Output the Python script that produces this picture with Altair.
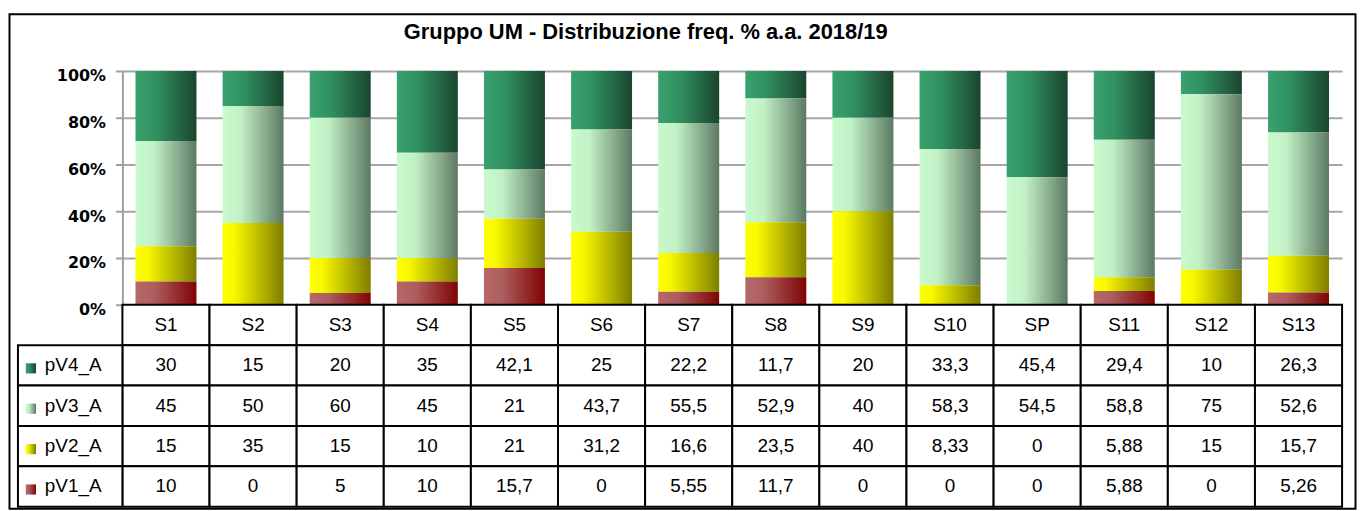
import altair as alt
import pandas as pd

# ---- data -------------------------------------------------------------
categories = ["S1", "S2", "S3", "S4", "S5", "S6", "S7", "S8", "S9",
              "S10", "SP", "S11", "S12", "S13"]
series = ["pV4_A", "pV3_A", "pV2_A", "pV1_A"]
pV4_A = [30, 15, 20, 35, 42.1, 25, 22.2, 11.7, 20, 33.3, 45.4, 29.4, 10, 26.3]
pV3_A = [45, 50, 60, 45, 21, 43.7, 55.5, 52.9, 40, 58.3, 54.5, 58.8, 75, 52.6]
pV2_A = [15, 35, 15, 10, 21, 31.2, 16.6, 23.5, 40, 8.33, 0, 5.88, 15, 15.7]
pV1_A = [10, 0, 5, 10, 15.7, 0, 5.55, 11.7, 0, 0, 0, 5.88, 0, 5.26]
chart_title = "Gruppo UM - Distribuzione freq. % a.a. 2018/19"
y_ticks = [0, 0.2, 0.4, 0.6, 0.8, 1.0]

values = {"pV4_A": pV4_A, "pV3_A": pV3_A, "pV2_A": pV2_A, "pV1_A": pV1_A}
stack_order = {"pV1_A": 1, "pV2_A": 2, "pV3_A": 3, "pV4_A": 4}

# ---- styles -----------------------------------------------------------
gradient_stops = {
    "pV4_A": [("#38A26F", 0.0), ("#30905F", 0.35), ("#1A452F", 1.0)],
    "pV3_A": [("#C8FACD", 0.0), ("#C2F1C6", 0.3), ("#5D7962", 1.0)],
    "pV2_A": [("#FFFF00", 0.0), ("#F8F800", 0.2), ("#7E7E00", 1.0)],
    "pV1_A": [("#B66868", 0.0), ("#AE5E5E", 0.3), ("#800404", 1.0)],
}


def grad(s):
    return alt.Gradient(
        gradient="linear", x1=0, x2=1, y1=0, y2=0,
        stops=[alt.GradientStop(color=c, offset=o) for c, o in gradient_stops[s]],
    )


def fmt(v):
    return f"{v:g}".replace(".", ",")


FONT = "Liberation Sans, Arial, sans-serif"

rows = []
for s in series:
    for c, v in zip(categories, values[s]):
        rows.append({"cat": c, "series": s, "value": v, "order": stack_order[s],
                     "row": s, "text": fmt(v)})
df = pd.DataFrame(rows)

hdr = pd.DataFrame({"cat": categories, "row": ["hdr"] * len(categories),
                    "text": categories})
tdf = pd.concat([hdr, df[["cat", "row", "text"]]], ignore_index=True)

# ---- bar chart --------------------------------------------------------
x_bar = alt.X("cat:N", sort=categories,
              scale=alt.Scale(domain=categories, paddingInner=0.3, paddingOuter=0.15),
              axis=None)
y_bar = alt.Y("y0:Q", scale=alt.Scale(domain=[0, 1], nice=False),
              axis=alt.Axis(values=y_ticks, format=".0%", title=None,
                            labelFont="DejaVu Sans", labelFontSize=16,
                            labelFontWeight="bold", labelColor="black",
                            labelPadding=10, labelOffset=5,
                            tickSize=7, tickColor="#A0A0A0", tickWidth=2,
                            domainColor="#A0A0A0", domainWidth=2,
                            gridColor="#A6A6A6", gridWidth=2))

base = alt.Chart(df).transform_stack(
    stack="value", groupby=["cat"], as_=["y0", "y1"], offset="normalize",
    sort=[alt.SortField("order", order="ascending")],
)
bar_layers = []
for s in series:
    bar_layers.append(
        base.transform_filter(alt.datum.series == s)
        .mark_bar(fill=grad(s), strokeWidth=0)
        .encode(x=x_bar, y=y_bar, y2="y1:Q")
    )

bars = alt.layer(*bar_layers).properties(
    width=1226, height=235,
    title=alt.TitleParams(text=chart_title, font=FONT, fontSize=22,
                          fontWeight="bold", color="black", anchor="middle",
                          dx=-87, offset=24),
)

# ---- data table -------------------------------------------------------
x_t = alt.X("cat:N", sort=categories,
            scale=alt.Scale(domain=categories, paddingInner=0, paddingOuter=0),
            axis=None)
y_t = alt.Y("row:N", scale=alt.Scale(domain=["hdr"] + series,
                                      paddingInner=0, paddingOuter=0),
            axis=None)

cells = alt.Chart(tdf).mark_rect(fill="white", stroke="black", strokeWidth=2).encode(
    x=x_t, y=y_t)
texts = alt.Chart(tdf).mark_text(font=FONT, fontSize=19, color="black").encode(
    x=x_t, y=y_t, text="text:N")

lab_df = pd.DataFrame({"row": series})
lab_cells = alt.Chart(lab_df).mark_rect(fill="white", stroke="black",
                                        strokeWidth=2).encode(
    x=alt.value(-105), x2=alt.value(0), y=y_t)
lab_texts = alt.Chart(lab_df).mark_text(font=FONT, fontSize=19, color="black",
                                        align="left").encode(
    x=alt.value(-78), y=y_t, text="row:N")
squares = []
for s in series:
    squares.append(
        alt.Chart(lab_df).transform_filter(alt.datum.row == s)
        .mark_square(size=105, fill=grad(s), opacity=1, strokeWidth=0, yOffset=3)
        .encode(x=alt.value(-92), y=y_t)
    )

frame = alt.Chart(pd.DataFrame({"f": [0]})).mark_rect(
    fillOpacity=0, stroke="black", strokeWidth=2).encode(
    x=alt.value(-113.5), x2=alt.value(1239.5), y=alt.value(-292), y2=alt.value(205))

table = alt.layer(cells, texts, lab_cells, lab_texts, *squares, frame).properties(
    width=1226, height=203)

chart = alt.vconcat(bars, table, spacing=0, bounds="flush").properties(
    padding={"left": 0, "top": 4, "right": 0, "bottom": 0}
).configure_view(strokeWidth=0)

chart.save("out.html", embed_options={"renderer": "svg", "actions": False})
